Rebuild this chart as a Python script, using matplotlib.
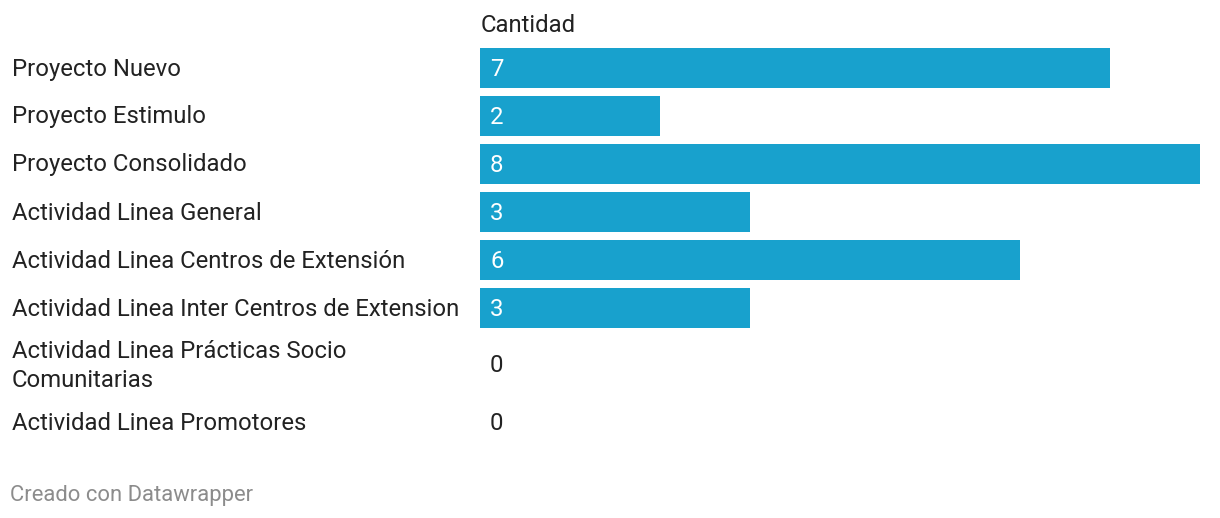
import matplotlib
matplotlib.use("Agg")
import matplotlib.pyplot as plt

categories = [
    "Proyecto Nuevo",
    "Proyecto Estimulo",
    "Proyecto Consolidado",
    "Actividad Linea General",
    "Actividad Linea Centros de Extensión",
    "Actividad Linea Inter Centros de Extension",
    "Actividad Linea Prácticas Socio\nComunitarias",
    "Actividad Linea Promotores",
]
values = [7, 2, 8, 3, 6, 3, 0, 0]
column_title = "Cantidad"
footer = "Creado con Datawrapper"

W, H = 1220, 518
DPI = 100
BAR_COLOR = "#18a1cd"
FONT = "Roboto"
FS = 17.2

fig = plt.figure(figsize=(W / DPI, H / DPI), dpi=DPI)
fig.patch.set_facecolor("white")

# layout: row heights in pixels (two-line label gets a taller row)
row_gap = 8
start_y = 48
centers = []
for c in categories:
    pass
y = start_y
for c in categories:
    h = 58 if "\n" in c else 40
    centers.append(y + h / 2)
    y += h + row_gap

bar_left, bar_right = 480, 1200
ax = fig.add_axes([bar_left / W, 0, (bar_right - bar_left) / W, 1])
ax.set_xlim(0, max(values))
ax.set_ylim(H, 0)
ax.axis("off")

ax.barh(centers, values, height=40, color=BAR_COLOR, left=0)

for cat, v, yc in zip(categories, values, centers):
    ax.text(10 / 90, yc + 1, str(v), color="white" if v > 0 else "#222222",
            fontsize=FS, family=FONT, va="center", ha="left")
    fig.text(12 / W, 1 - (yc + 1) / H, cat, fontsize=FS, family=FONT, color="#222222",
             va="center", ha="left", linespacing=1.38)

fig.text(481 / W, 1 - 25 / H, column_title, fontsize=FS, family=FONT,
         color="#222222", va="center", ha="left")
fig.text(10 / W, 1 - 495 / H, footer, fontsize=15.8, family=FONT,
         color="#8c8c8c", va="center", ha="left")

fig.savefig("out.png", dpi=DPI, facecolor="white")
